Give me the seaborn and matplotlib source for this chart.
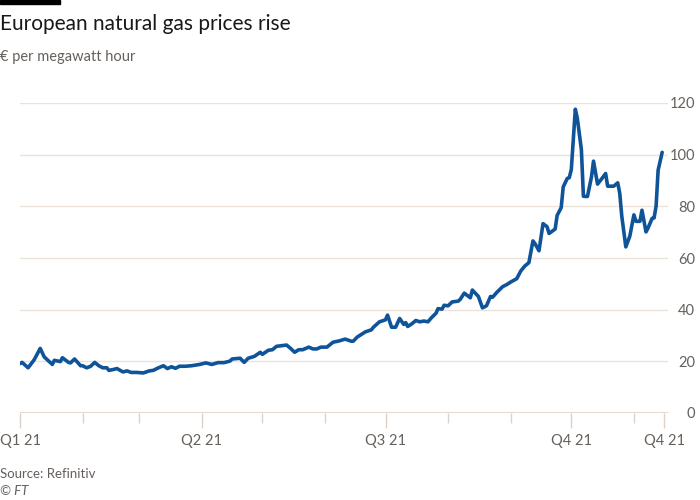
import pandas as pd
import seaborn as sns
import matplotlib.pyplot as plt
import matplotlib.dates as mdates

# Data (TTF gas, € per MWh)
dates = [
    "2021-01-01", "2021-01-02", "2021-01-05", "2021-01-08", "2021-01-11", "2021-01-13",
    "2021-01-17", "2021-01-18", "2021-01-21", "2021-01-22", "2021-01-25", "2021-01-26",
    "2021-01-28", "2021-01-31", "2021-02-01", "2021-02-03", "2021-02-05", "2021-02-07",
    "2021-02-09", "2021-02-11", "2021-02-13", "2021-02-14", "2021-02-16", "2021-02-18",
    "2021-02-21", "2021-02-23", "2021-02-25", "2021-02-28", "2021-03-03", "2021-03-06",
    "2021-03-08", "2021-03-10", "2021-03-13", "2021-03-15", "2021-03-17", "2021-03-19",
    "2021-03-21", "2021-03-24", "2021-03-27", "2021-03-31", "2021-04-03", "2021-04-06",
    "2021-04-09", "2021-04-12", "2021-04-15", "2021-04-16", "2021-04-20", "2021-04-21",
    "2021-04-22", "2021-04-24", "2021-04-27", "2021-04-30", "2021-05-01", "2021-05-04",
    "2021-05-06", "2021-05-08", "2021-05-11", "2021-05-13", "2021-05-15", "2021-05-17",
    "2021-05-19", "2021-05-21", "2021-05-24", "2021-05-26", "2021-05-28", "2021-05-30",
    "2021-06-02", "2021-06-05", "2021-06-08", "2021-06-11", "2021-06-14", "2021-06-15",
    "2021-06-17", "2021-06-20", "2021-06-21", "2021-06-24", "2021-06-25", "2021-06-28",
    "2021-06-30", "2021-07-01", "2021-07-02", "2021-07-04", "2021-07-06", "2021-07-08",
    "2021-07-10", "2021-07-11", "2021-07-12", "2021-07-14", "2021-07-16", "2021-07-18",
    "2021-07-20", "2021-07-22", "2021-07-24", "2021-07-26", "2021-07-27", "2021-07-29",
    "2021-07-30", "2021-08-01", "2021-08-03", "2021-08-06", "2021-08-07", "2021-08-09",
    "2021-08-12", "2021-08-13", "2021-08-16", "2021-08-18", "2021-08-20", "2021-08-22",
    "2021-08-23", "2021-08-25", "2021-08-28", "2021-08-30", "2021-09-01", "2021-09-04",
    "2021-09-06", "2021-09-08", "2021-09-10", "2021-09-12", "2021-09-13", "2021-09-15",
    "2021-09-17", "2021-09-19", "2021-09-20", "2021-09-23", "2021-09-24", "2021-09-26",
    "2021-09-27", "2021-09-29", "2021-09-30", "2021-10-01", "2021-10-03", "2021-10-04",
    "2021-10-06", "2021-10-07", "2021-10-09", "2021-10-11", "2021-10-12", "2021-10-14",
    "2021-10-16", "2021-10-18", "2021-10-19", "2021-10-22", "2021-10-24", "2021-10-25",
    "2021-10-26", "2021-10-28", "2021-10-30", "2021-11-01", "2021-11-02", "2021-11-04",
    "2021-11-05", "2021-11-07", "2021-11-08", "2021-11-10", "2021-11-11", "2021-11-12",
    "2021-11-13", "2021-11-15",
]
prices = [
    19.1, 19.6, 17.5, 20.6, 25.0, 21.7,
    18.8, 20.4, 19.9, 21.4, 19.6, 19.4,
    20.9, 18.3, 18.3, 17.5, 18.1, 19.6,
    18.3, 17.5, 17.5, 16.5, 16.8, 17.2,
    15.9, 16.3, 15.7, 15.7, 15.5, 16.3,
    16.5, 17.3, 18.3, 17.2, 17.9, 17.3,
    18.1, 18.1, 18.3, 18.8, 19.4, 18.8,
    19.5, 19.5, 20.1, 20.9, 21.2, 20.4,
    19.6, 21.2, 21.9, 23.5, 22.7, 24.3,
    24.5, 25.8, 26.1, 26.3, 25.0, 23.5,
    24.5, 24.5, 25.5, 24.8, 24.8, 25.5,
    25.5, 27.4, 27.9, 28.6, 27.8, 27.8,
    29.4, 30.9, 31.4, 32.2, 33.2, 35.3,
    35.8, 36.1, 37.9, 33.2, 33.2, 36.6,
    34.3, 35.0, 33.5, 34.5, 35.8, 35.3,
    35.6, 35.3, 37.1, 38.6, 40.4, 40.2,
    41.7, 41.5, 43.0, 43.3, 44.0, 46.4,
    44.6, 47.6, 45.1, 40.7, 41.5, 45.1,
    44.8, 46.6, 48.9, 49.7, 50.7, 52.0,
    55.0, 56.9, 58.2, 66.6, 65.6, 62.8,
    73.3, 72.1, 69.5, 71.2, 76.5, 79.5,
    87.5, 90.8, 91.1, 94.2, 117.6, 114.0,
    101.9, 83.9, 83.8, 91.4, 97.5, 88.6,
    90.6, 92.7, 87.8, 87.8, 89.1, 85.0,
    76.2, 64.3, 68.5, 76.7, 74.2, 74.2,
    78.5, 70.1, 71.6, 75.3, 75.5, 80.1,
    94.0, 100.9,
]
y_ticks = [0, 20, 40, 60, 80, 100, 120]
x_major = ["2021-01-01", "2021-04-01", "2021-07-01", "2021-10-01", "2021-11-16"]
x_major_labels = ["Q1 21", "Q2 21", "Q3 21", "Q4 21", "Q4 21"]

df = pd.DataFrame({"date": pd.to_datetime(dates), "price": prices})

sns.set_theme(style="white")
plt.rcParams["font.family"] = ["Lato", "DejaVu Sans"]

grey = "#66605c"
grid_col = "#ebe2da"
tick_col = "#dcd2c9"

fig = plt.figure(figsize=(7, 5), dpi=100)
fig.patch.set_facecolor("white")
ax = fig.add_axes([0.0286, 0.174, 0.926, 0.62])

for y in y_ticks[1:]:
    ax.axhline(y, color=grid_col, lw=1, zorder=0)
ax.axhline(0, color=tick_col, lw=1.2, zorder=1)

sns.lineplot(data=df, x="date", y="price", color="#0f5499", lw=2.6, ax=ax, zorder=3)

ax.set_ylim(0, 120)
ax.set_xlim(pd.Timestamp("2021-01-01"), pd.Timestamp("2021-11-18"))
for s in ax.spines.values():
    s.set_visible(False)

# right-hand y labels, right edge about 27px past the plot area
ax.yaxis.tick_right()
ax.set_yticks(y_ticks)
ax.tick_params(axis="y", length=0, pad=19.5, labelsize=10.5, labelcolor=grey)
for lbl in ax.get_yticklabels():
    lbl.set_horizontalalignment("right")

ax.set_xticks(pd.to_datetime(x_major))
ax.set_xticklabels(x_major_labels)
ax.xaxis.set_minor_locator(mdates.MonthLocator())
ax.tick_params(axis="x", which="both", bottom=True, direction="out")
ax.tick_params(axis="x", which="major", length=11, width=1, color=tick_col,
               labelsize=10.5, labelcolor=grey, pad=4)
ax.tick_params(axis="x", which="minor", length=7, width=1, color=tick_col)
ax.set_xlabel("")
ax.set_ylabel("")

fig.patches.append(plt.Rectangle((0, 0.992), 0.086, 0.008, transform=fig.transFigure,
                                 color="black", zorder=5))
fig.text(0.0, 0.951, "European natural gas prices rise", fontsize=15, color="#1a1817",
         va="center", ha="left")
fig.text(0.0, 0.886, "€ per megawatt hour", fontsize=10.5, color=grey,
         va="center", ha="left")
fig.text(0.0, 0.052, "Source: Refinitiv", fontsize=9.5, color=grey, va="center")
fig.text(0.0, 0.018, "© FT", fontsize=9.5, color=grey, va="center", style="italic")

fig.savefig("out.png", dpi=100, facecolor="white")
